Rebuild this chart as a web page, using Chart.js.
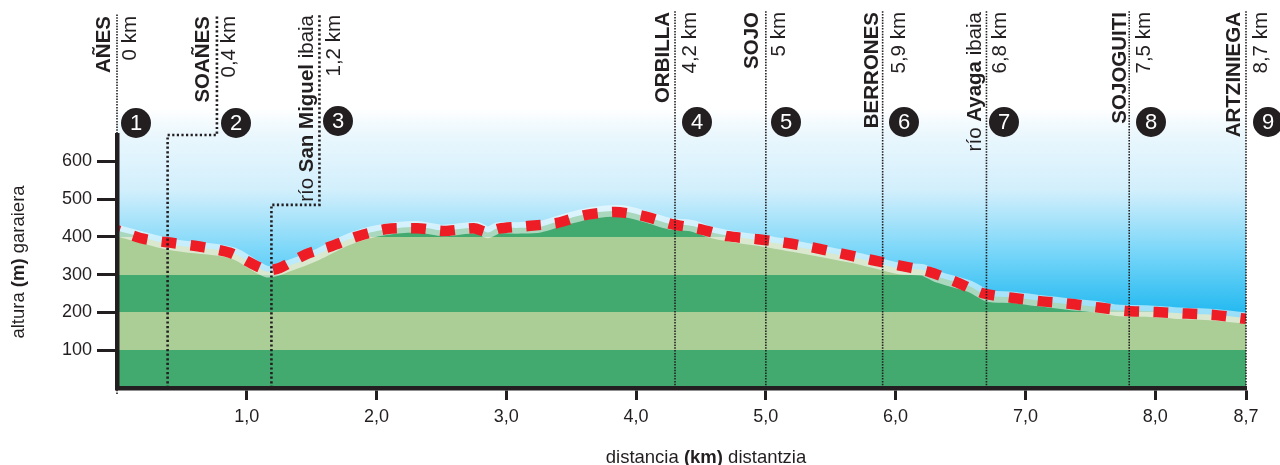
<!DOCTYPE html>
<html>
<head>
<meta charset="utf-8">
<style>
  body { margin: 0; background: #fff; }
  canvas { display: block; }
</style>
<script src="https://cdn.jsdelivr.net/npm/chart.js"></script>
</head>
<body>
<canvas id="profile" width="1280" height="465"></canvas>
<script>
// terrain profile, km / m
const terrainKm = [0, 0.385, 0.539, 0.77, 0.925, 1.156, 1.31, 1.541, 1.772, 2.003, 2.311, 2.512, 2.773, 2.858, 2.935, 3.082, 3.259, 3.436, 3.667, 3.898, 4.083, 4.26, 4.438, 4.569, 4.746, 5.008, 5.285, 5.47, 5.724, 6.032, 6.209, 6.317, 6.572, 6.71, 6.903, 7.088, 7.342, 7.55, 7.704, 7.935, 8.189, 8.444, 8.7];
const terrainAlt = [417, 382, 374, 366, 353, 308, 322, 353, 392, 416, 427, 417, 425, 412, 424, 424, 427, 445, 464, 469, 453, 435, 429, 413, 401, 388, 371, 359, 342, 316, 313, 295, 269, 244, 240, 232, 222, 215, 206, 204, 198, 194, 185];

// red route drawn a little above the ground
const routeKm = [0, 0.216, 0.431, 0.663, 0.871, 1.063, 1.163, 1.256, 1.456, 1.656, 1.857, 2.08, 2.311, 2.527, 2.75, 2.85, 2.943, 3.166, 3.39, 3.606, 3.837, 4.052, 4.276, 4.492, 4.707, 4.938, 5.162, 5.378, 5.593, 5.817, 6.032, 6.256, 6.464, 6.672, 6.895, 7.111, 7.342, 7.566, 7.789, 8.012, 8.243, 8.467, 8.7];
const routeAlt = [418, 394, 384, 373, 358, 325, 312, 318, 354, 376, 402, 421, 423, 416, 423, 413, 422, 429, 437, 458, 466, 456, 434, 421, 402, 394, 384, 371, 355, 339, 324, 308, 281, 251, 239, 230, 223, 213, 204, 201, 197, 193, 183];

const bandTops = [100, 200, 300, 400, 500];
const bandColors = ['#42a96f', '#abcd96', '#42a96f', '#abcd96', '#42a96f'];

const yTicks = [100, 200, 300, 400, 500, 600];
const yTickLabels = ['100', '200', '300', '400', '500', '600'];
const xTicks = [1, 2, 3, 4, 5, 6, 7, 8, 8.7];
const xTickLabels = ['1,0', '2,0', '3,0', '4,0', '5,0', '6,0', '7,0', '8,0', '8,7'];

// places along the route
const placeKm = [0, 0.39, 1.19, 4.3, 5, 5.9, 6.7, 7.8, 8.7];
const placeBefore = ['', '', 'río ', '', '', '', 'río ', '', ''];
const placeBold = ['AÑES', 'SOAÑES', 'San Miguel', 'ORBILLA', 'SOJO', 'BERRONES', 'Ayaga', 'SOJOGUITI', 'ARTZINIEGA'];
const placeAfter = ['', '', ' ibaia', '', '', '', ' ibaia', '', ''];
const placeDist = ['0 km', '0,4 km', '1,2 km', '4,2 km', '5 km', '5,9 km', '6,8 km', '7,5 km', '8,7 km'];
const placeNum = ['1', '2', '3', '4', '5', '6', '7', '8', '9'];

const FONT = '"Liberation Sans"';
const INK = '#231f20';

// pixel layout of the header labels
const nameX = [110, 209, 313, 669, 758, 877.5, 981, 1126, 1240];
const distX = [136, 235, 340, 696, 785, 904.5, 1006, 1150, 1266.5];
const badgeX = [136, 236, 338, 697, 786, 904, 1004, 1151, 1268];
const badgeY = [123, 123, 121, 122, 122, 122, 122, 122, 122];
const labelTop = [16, 16, 15, 12, 12, 12, 12, 12, 12];
// leader elbows: [km, altitude] of the jog for places 2 and 3
const elbows = { 1: [0.77, 670], 2: [1.56, 485] };

function pairs(xs, ys) {
  return xs.map((x, i) => ({ x: x, y: ys[i] }));
}

// one text run with mixed weights, rotated or not
function richText(ctx, parts, x, y, size, rotated, align) {
  ctx.save();
  ctx.fillStyle = INK;
  ctx.textBaseline = 'alphabetic';
  ctx.textAlign = 'left';
  let total = 0;
  parts.forEach(p => {
    ctx.font = (p[1] ? 'bold ' : '') + size + 'px ' + FONT;
    total += ctx.measureText(p[0]).width;
  });
  ctx.translate(x, y);
  if (rotated) ctx.rotate(-Math.PI / 2);
  let pos = align === 'end' ? -total : align === 'center' ? -total / 2 : 0;
  parts.forEach(p => {
    ctx.font = (p[1] ? 'bold ' : '') + size + 'px ' + FONT;
    ctx.fillText(p[0], pos, 0);
    pos += ctx.measureText(p[0]).width;
  });
  ctx.restore();
}

const skyPlugin = {
  id: 'sky',
  beforeDatasetsDraw(chart) {
    const ctx = chart.ctx, area = chart.chartArea;
    const g = ctx.createLinearGradient(0, 108, 0, 322);
    g.addColorStop(0, '#ffffff');
    g.addColorStop(0.126, '#eaf7fd');
    g.addColorStop(0.383, '#d2effc');
    g.addColorStop(0.523, '#a8e3fa');
    g.addColorStop(0.664, '#7bd7f9');
    g.addColorStop(1, '#17b5ef');
    ctx.save();
    ctx.fillStyle = g;
    ctx.fillRect(area.left, 108, area.right - area.left, area.bottom - 108);
    ctx.restore();
  }
};

const leaderPlugin = {
  id: 'leaders',
  afterDatasetsDraw(chart) {
    const ctx = chart.ctx, xs = chart.scales.x, ys = chart.scales.y;
    const bottom = chart.chartArea.bottom;
    ctx.save();
    ctx.strokeStyle = INK;
    placeKm.forEach((km, i) => {
      const px = xs.getPixelForValue(km);
      ctx.beginPath();
      if (elbows[i]) {
        const ex = xs.getPixelForValue(elbows[i][0]);
        const ey = ys.getPixelForValue(elbows[i][1]);
        ctx.lineWidth = 2.6;
        ctx.setLineDash([2.2, 2.4]);
        ctx.moveTo(px, bottom);
        ctx.lineTo(px, ey);
        ctx.lineTo(ex, ey);
        ctx.lineTo(ex, labelTop[i]);
      } else {
        ctx.lineWidth = 1.6;
        ctx.setLineDash([1.5, 1.3]);
        ctx.moveTo(px, i === 0 ? bottom + 6 : bottom);
        ctx.lineTo(px, labelTop[i] - 2);
      }
      ctx.stroke();
    });
    ctx.restore();
  },
  afterDraw(chart) {
    const ctx = chart.ctx;
    placeBold.forEach((name, i) => {
      const parts = [[placeBefore[i], false], [name, true], [placeAfter[i], false]];
      let len = 0;
      parts.forEach(p => {
        ctx.font = (p[1] ? 'bold ' : '') + '20.5px ' + FONT;
        len += ctx.measureText(p[0]).width;
      });
      richText(ctx, parts, nameX[i], labelTop[i] + len, 20.5, true, 'start');
      ctx.font = '20.5px ' + FONT;
      const dl = ctx.measureText(placeDist[i]).width;
      richText(ctx, [[placeDist[i], false]], distX[i], labelTop[i] + dl, 20.5, true, 'start');

      ctx.save();
      ctx.fillStyle = INK;
      ctx.beginPath();
      ctx.arc(badgeX[i], badgeY[i], 15, 0, Math.PI * 2);
      ctx.fill();
      ctx.fillStyle = '#fff';
      ctx.font = '22px ' + FONT;
      ctx.textAlign = 'center';
      ctx.textBaseline = 'middle';
      ctx.fillText(placeNum[i], badgeX[i], badgeY[i] + 1);
      ctx.restore();
    });
    richText(ctx, [['altura ', false], ['(m)', true], [' garaiera', false]], 24, 262, 18.5, true, 'center');
    richText(ctx, [['distancia ', false], ['(km)', true], [' distantzia', false]], 706, 463, 18.5, false, 'center');
  }
};

new Chart(document.getElementById('profile'), {
  type: 'line',
  plugins: [skyPlugin, leaderPlugin],
  data: {
    datasets: [
      {
        // ground with hard-edged altitude bands
        data: pairs(terrainKm, terrainAlt),
        order: 3,
        borderWidth: 0,
        pointRadius: 0,
        tension: 0.25,
        fill: 'origin',
        backgroundColor(c) {
          const s = c.chart.scales.y;
          if (!c.chart.chartArea || !s) return bandColors[0];
          const y0 = s.getPixelForValue(0), y1 = s.getPixelForValue(500);
          const g = c.chart.ctx.createLinearGradient(0, y0, 0, y1);
          let low = 0;
          bandTops.forEach((top, i) => {
            g.addColorStop(low / 500, bandColors[i]);
            g.addColorStop(top / 500, bandColors[i]);
            low = top;
          });
          return g;
        }
      },
      {
        // pale band sits on the ground line
        data: pairs(terrainKm, terrainAlt),
        order: 2,
        borderColor: 'rgba(255,255,255,0.55)',
        borderWidth: 11.5,
        pointRadius: 0,
        tension: 0.25,
        fill: false
      },
      {
        data: pairs(routeKm, routeAlt),
        order: 1,
        borderColor: '#ee1c25',
        borderWidth: 10.5,
        borderDash: [15, 14.1],
        borderDashOffset: 12,
        borderCapStyle: 'butt',
        pointRadius: 0,
        tension: 0.25,
        fill: false
      }
    ]
  },
  options: {
    responsive: false,
    animation: false,
    devicePixelRatio: 1,
    layout: { padding: { top: 135, right: 34, left: 0, bottom: 0 } },
    plugins: { legend: { display: false }, tooltip: { enabled: false } },
    scales: {
      x: {
        type: 'linear',
        min: 0,
        max: 8.7,
        afterFit(s) { s.height = 77; },
        afterBuildTicks(s) { s.ticks = xTicks.map(v => ({ value: v })); },
        border: { color: INK, width: 4.5, z: 1 },
        grid: { drawOnChartArea: false, color: INK, tickColor: INK, tickWidth: 3, tickLength: 12, z: 1 },
        ticks: {
          autoSkip: false,
          maxRotation: 0,
          padding: 6,
          color: INK,
          font: { family: FONT, size: 18 },
          callback(v, i) { return xTickLabels[i]; }
        }
      },
      y: {
        min: 0,
        max: 670,
        afterFit(s) { s.width = 117; },
        afterBuildTicks(s) { s.ticks = yTicks.map(v => ({ value: v })); },
        border: { color: INK, width: 4.5, z: 1 },
        grid: { drawOnChartArea: false, color: INK, tickColor: INK, tickWidth: 3, tickLength: 20, z: 1 },
        ticks: {
          autoSkip: false,
          padding: 5,
          color: INK,
          font: { family: FONT, size: 18 },
          callback(v, i) { return yTickLabels[i]; }
        }
      }
    }
  }
});
</script>
</body>
</html>
